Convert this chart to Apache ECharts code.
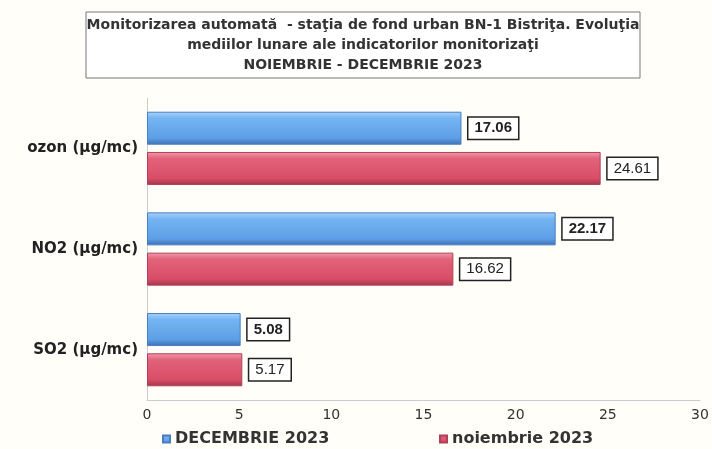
<!DOCTYPE html>
<html>
<head>
<meta charset="utf-8">
<script src="https://cdn.jsdelivr.net/npm/echarts@6/dist/echarts.min.js"></script>
<style>
    html, body { margin: 0; padding: 0; background: #fffef8; }
    #chart { width: 712px; height: 449px; }
</style>
</head>
<body>
<div id="chart"></div>
<script>
// categorii, de sus in jos
const categories = ['ozon (µg/mc)', 'NO2 (µg/mc)', 'SO2 (µg/mc)']
const decembrie = [17.06, 22.17, 5.08]
const noiembrie = [24.61, 16.62, 5.17]
const seriesNames = ['DECEMBRIE 2023', 'noiembrie 2023']
const titleText = 'Monitorizarea automată  - staţia de fond urban BN-1 Bistriţa. Evoluţia\nmediilor lunare ale indicatorilor monitorizaţi\nNOIEMBRIE - DECEMBRIE 2023'

const FONT = 'DejaVu Sans'
const chart = echarts.init(document.getElementById('chart'))

const labelBox = (bold) => ({
    show: true,
    position: 'right',
    distance: 7,
    color: '#222',
    fontSize: 15,
    fontWeight: bold ? 'bold' : 'normal',
    fontFamily: 'Liberation Sans',
    backgroundColor: '#fff',
    borderColor: '#222',
    borderWidth: 1.5,
    padding: [3, 6],
    formatter: (p) => p.value.toFixed(2)
})

const legendText = {
    fontSize: 16,
    fontWeight: 'bold',
    color: '#333',
    fontFamily: FONT
}

const option = {
    backgroundColor: '#fffef8',
    graphic: [
        {
            type: 'rect',
            shape: { x: 86, y: 12, width: 554, height: 66 },
            style: { fill: '#fff', stroke: '#777', lineWidth: 1 }
        },
        {
            type: 'text',
            x: 363,
            y: 15,
            style: {
                text: titleText,
                align: 'center',
                verticalAlign: 'top',
                fontSize: 14,
                fontWeight: 'bold',
                lineHeight: 20,
                fill: '#333',
                fontFamily: FONT
            }
        }
    ],
    legend: [
        {
            bottom: -3,
            left: 157,
            itemWidth: 7,
            itemHeight: 7,
            icon: 'rect',
            textStyle: legendText,
            data: [seriesNames[0]]
        },
        {
            bottom: -3,
            left: 434,
            itemWidth: 7,
            itemHeight: 7,
            icon: 'rect',
            textStyle: legendText,
            data: [seriesNames[1]]
        }
    ],
    grid: {
        left: 147,
        right: 12,
        top: 98,
        bottom: 49
    },
    xAxis: {
        type: 'value',
        min: 0,
        max: 30,
        interval: 5,
        splitLine: { show: false },
        axisLine: { show: true, lineStyle: { color: '#ccc' } },
        axisTick: { show: false },
        axisLabel: {
            color: '#333',
            fontSize: 14,
            margin: 8,
            fontFamily: FONT
        }
    },
    yAxis: {
        type: 'category',
        inverse: true,
        data: categories,
        axisLine: { show: true, lineStyle: { color: '#ccc' } },
        axisTick: { show: false },
        axisLabel: {
            color: '#222',
            fontSize: 15,
            fontWeight: 'bold',
            margin: 9,
            fontFamily: FONT
        }
    },
    series: [
        {
            name: seriesNames[0],
            type: 'bar',
            data: decembrie,
            barWidth: 33,
            barGap: '22%',
            itemStyle: {
                color: new echarts.graphic.LinearGradient(0, 0, 0, 1, [
                    { offset: 0, color: '#a9d2fb' },
                    { offset: 0.2, color: '#74b4f3' },
                    { offset: 0.8, color: '#5d9fe6' },
                    { offset: 1, color: '#3d6fb3' }
                ]),
                borderColor: '#4a7dc0',
                borderWidth: 1
            },
            label: labelBox(true)
        },
        {
            name: seriesNames[1],
            type: 'bar',
            data: noiembrie,
            barWidth: 33,
            itemStyle: {
                color: new echarts.graphic.LinearGradient(0, 0, 0, 1, [
                    { offset: 0, color: '#f39aab' },
                    { offset: 0.2, color: '#e2627a' },
                    { offset: 0.8, color: '#d94d66' },
                    { offset: 1, color: '#a3354a' }
                ]),
                borderColor: '#b0405a',
                borderWidth: 1
            },
            label: labelBox(false)
        }
    ]
}

chart.setOption(option)
</script>
</body>
</html>
